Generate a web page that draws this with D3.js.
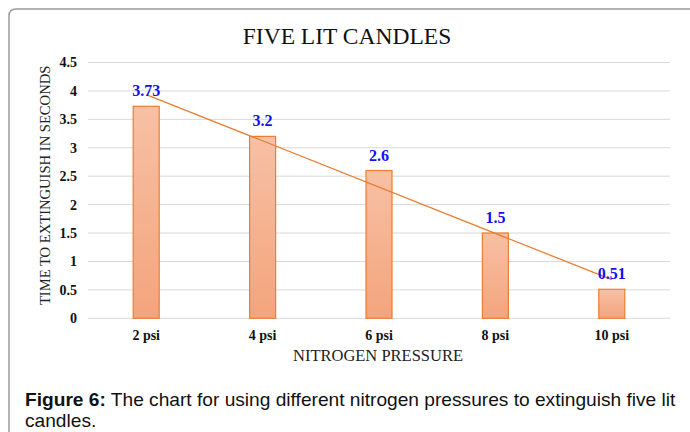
<!DOCTYPE html>
<html>
  <head>
    <meta charset="utf-8">
    <title>Five lit candles</title>
    <script src="https://d3js.org/d3.v7.min.js"></script>
    <style>
      body { margin: 0; background: #fff; }
      svg { display: block; }
    </style>
  </head>
  <body>
    <script>

      var pressures = ["2 psi", "4 psi", "6 psi", "8 psi", "10 psi"];
      var times = [3.73, 3.2, 2.6, 1.5, 0.51];
      var labels = ["3.73", "3.2", "2.6", "1.5", "0.51"];
      var yTicks = [0, 0.5, 1, 1.5, 2, 2.5, 3, 3.5, 4, 4.5];

      var width = 690, height = 432;
      var margin = {left: 88, top: 62.5};
      var plotRight = 670, plotBottom = 318.3;
      var serif = "Liberation Serif, Times New Roman, serif";

      var svg = d3.select("body").append("svg")
        .attr("width", width)
        .attr("height", height);

      // bar gradient
      var grad = svg.append("defs").append("linearGradient")
        .attr("id", "barFill")
        .attr("x1", 0).attr("y1", 0).attr("x2", 0).attr("y2", 1);
      grad.append("stop").attr("offset", "0%").attr("stop-color", "#f7c0a4");
      grad.append("stop").attr("offset", "100%").attr("stop-color", "#f4a47c");

      // frame
      svg.append("path")
        .attr("d", "M9,432 L9,16 Q9,9 16,9 L690,9")
        .attr("fill", "none")
        .attr("stroke", "#9a9a9a")
        .attr("stroke-width", 1.5);

      var x = d3.scaleBand().domain(pressures).range([margin.left, plotRight]);
      var y = d3.scaleLinear().domain([0, 4.5]).range([plotBottom, margin.top]);

      // gridlines
      svg.append("g").selectAll("line").data(yTicks).enter().append("line")
        .attr("x1", margin.left).attr("x2", plotRight)
        .attr("y1", function (d){ return y(d); })
        .attr("y2", function (d){ return y(d); })
        .attr("stroke", "#d9d9d9")
        .attr("stroke-width", 1);

      var yAxis = svg.append("g")
        .attr("transform", "translate(" + margin.left + ",0)")
        .call(d3.axisLeft(y).tickValues(yTicks).tickSize(0).tickPadding(11).tickFormat(d3.format("")));
      yAxis.select(".domain").remove();

      var xAxis = svg.append("g")
        .attr("transform", "translate(0," + plotBottom + ")")
        .call(d3.axisBottom(x).tickSize(0).tickPadding(10));
      xAxis.select(".domain").remove();
      xAxis.selectAll(".tick text").attr("dy", "0.85em");

      svg.selectAll(".tick text")
        .attr("font-family", serif)
        .attr("font-weight", "bold")
        .attr("font-size", 14)
        .attr("fill", "#111");

      var barW = 26;
      svg.append("g").selectAll("rect").data(times).enter().append("rect")
        .attr("x", function (d, i){ return x(pressures[i]) + x.bandwidth() / 2 - barW / 2; })
        .attr("y", function (d){ return y(d); })
        .attr("width", barW)
        .attr("height", function (d){ return plotBottom - y(d); })
        .attr("fill", "url(#barFill)")
        .attr("stroke", "#ed7d31")
        .attr("stroke-width", 1.2);

      // linear trendline
      var n = times.length;
      var xs = d3.range(1, n + 1);
      var mx = d3.mean(xs), my = d3.mean(times);
      var slope = d3.sum(xs, function (v, i){ return (v - mx) * (times[i] - my); }) /
                  d3.sum(xs, function (v){ return (v - mx) * (v - mx); });
      var icpt = my - slope * mx;
      var cx = function (i){ return x(pressures[i]) + x.bandwidth() / 2; };
      svg.append("line")
        .attr("x1", cx(0)).attr("y1", y(icpt + slope * 1))
        .attr("x2", cx(n - 1)).attr("y2", y(icpt + slope * n))
        .attr("stroke", "#ed7d31")
        .attr("stroke-width", 1.3);

      // data labels
      svg.append("g").selectAll("text").data(labels).enter().append("text")
        .attr("x", function (d, i){ return cx(i); })
        .attr("y", function (d, i){ return y(times[i]) - 10; })
        .attr("text-anchor", "middle")
        .attr("font-family", serif)
        .attr("font-weight", "bold")
        .attr("font-size", 16)
        .attr("fill", "#1010f0")
        .text(function (d){ return d; });

      // titles
      svg.append("text")
        .attr("x", 347).attr("y", 44)
        .attr("text-anchor", "middle")
        .attr("font-family", serif)
        .attr("font-size", 23.5)
        .attr("fill", "#111")
        .text("FIVE LIT CANDLES");

      svg.append("text")
        .attr("transform", "translate(50," + ((plotBottom + margin.top) / 2 - 5) + ") rotate(-90)")
        .attr("text-anchor", "middle")
        .attr("font-family", serif)
        .attr("font-size", 14.6)
        .attr("fill", "#222")
        .text("TIME TO EXTINGUISH IN SECONDS");

      svg.append("text")
        .attr("x", 378).attr("y", 361)
        .attr("text-anchor", "middle")
        .attr("font-family", serif)
        .attr("font-size", 16.5)
        .attr("fill", "#222")
        .text("NITROGEN PRESSURE");

      // caption
      var cap = svg.append("text")
        .attr("x", 25).attr("y", 406)
        .attr("font-family", "Liberation Sans, Arial, sans-serif")
        .attr("font-size", 16.5)
        .attr("fill", "#111");
      cap.append("tspan").attr("font-weight", "bold").text("Figure 6:");
      cap.append("tspan").text(" The chart for using different nitrogen pressures to extinguish five lit");
      var capW = cap.node().getComputedTextLength();
      var capSize = 16.5 * 651 / capW;
      cap.attr("font-size", capSize);

      svg.append("text")
        .attr("x", 25).attr("y", 427)
        .attr("font-family", "Liberation Sans, Arial, sans-serif")
        .attr("font-size", capSize)
        .attr("fill", "#111")
        .text("candles.");

    </script>
  </body>
</html>
